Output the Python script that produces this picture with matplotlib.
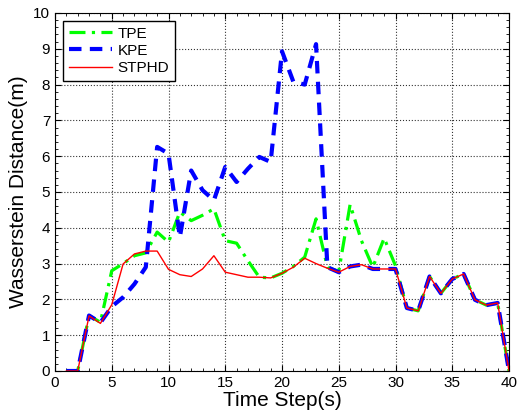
import numpy as np
import matplotlib
matplotlib.use('Agg')
import matplotlib.pyplot as plt
from matplotlib.ticker import MultipleLocator

plt.rcParams['font.family'] = ['Liberation Sans', 'DejaVu Sans']

# 时间步
t = np.arange(1, 41)

tpe = [0, 0, 1.55, 1.36, 2.8, 3.0, 3.22, 3.3, 3.88, 3.6,
       4.44, 4.2, 4.35, 4.53, 3.64, 3.57, 3.08, 2.62, 2.6, 2.73,
       2.92, 3.18, 4.25, 2.9, 2.78, 4.65, 3.64, 2.9, 3.71, 2.94,
       1.76, 1.68, 2.64, 2.17, 2.57, 2.71, 1.99, 1.84, 1.9, 0]

kpe = [0, 0, 1.55, 1.35, 1.8, 2.06, 2.43, 2.9, 6.26, 6.07,
       3.74, 5.6, 5.05, 4.77, 5.7, 5.28, 5.65, 5.98, 5.84, 8.93,
       8.08, 8.0, 9.13, 2.9, 2.76, 2.92, 2.97, 2.85, 2.85, 2.85,
       1.76, 1.68, 2.64, 2.17, 2.57, 2.71, 1.99, 1.84, 1.9, 0]

stphd = [0, 0, 1.54, 1.33, 1.85, 2.99, 3.27, 3.35, 3.35, 2.84,
         2.69, 2.64, 2.85, 3.22, 2.76, 2.69, 2.62, 2.62, 2.6, 2.73,
         2.9, 3.15, 3.0, 2.87, 2.76, 2.92, 2.97, 2.85, 2.85, 2.85,
         1.76, 1.68, 2.64, 2.17, 2.57, 2.71, 1.99, 1.84, 1.9, 0]

fig = plt.figure(figsize=(5.17, 4.17), dpi=100)
ax = fig.add_axes([55 / 517, 1 - 371 / 417, 454 / 517, 358 / 417])

ax.plot(t, tpe, color='#00ff00', linestyle=(0, (5, 2, 1, 2)), linewidth=2.3, label='TPE')
ax.plot(t, kpe, color='#0000ff', linestyle=(0, (3, 2)), linewidth=3, label='KPE')
ax.plot(t, stphd, color='#ff0000', linestyle='-', linewidth=1, label='STPHD')

ax.set_xlim(0, 40)
ax.set_ylim(0, 10)
ax.xaxis.set_major_locator(MultipleLocator(5))
ax.yaxis.set_major_locator(MultipleLocator(1))
ax.xaxis.set_minor_locator(MultipleLocator(1))
ax.yaxis.set_minor_locator(MultipleLocator(0.2))
ax.tick_params(which='both', direction='in', top=True, right=True, labelsize=11)
ax.tick_params(which='major', length=4)
ax.tick_params(which='minor', length=2)
ax.grid(True, which='major', color='black', linestyle=':', linewidth=0.8, alpha=0.8)

ax.set_xlabel('Time Step(s)', fontsize=15, labelpad=1)
ax.set_ylabel('Wasserstein Distance(m)', fontsize=15, labelpad=4)

leg = ax.legend(loc='upper left', fontsize=11, fancybox=False, framealpha=1,
                edgecolor='black', handlelength=2.8, borderaxespad=0.5,
                labelspacing=0.2, handletextpad=0.4)
leg.get_frame().set_linewidth(1.0)

fig.savefig('out.png', dpi=100)
